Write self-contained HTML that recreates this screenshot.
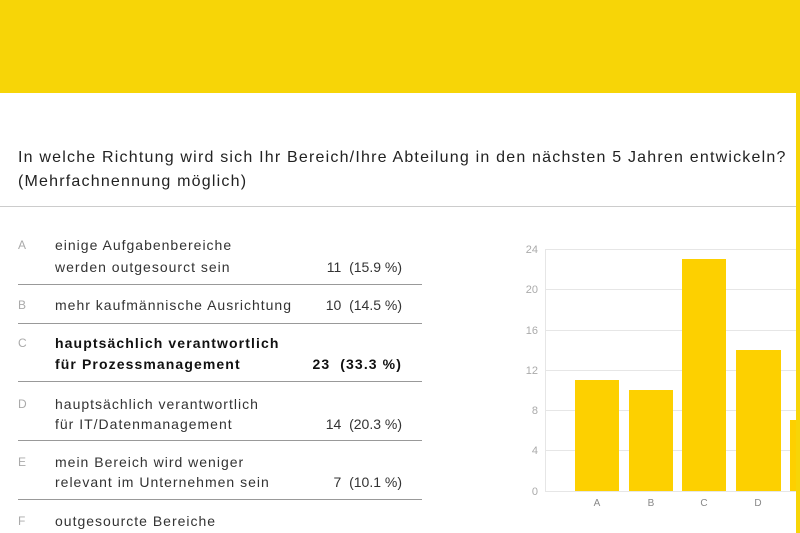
<!DOCTYPE html>
<html><head><meta charset="utf-8"><style>
body{margin:0;width:800px;height:533px;overflow:hidden;background:#fff;font-family:"Liberation Sans",sans-serif;position:relative}
.t{position:absolute;font-size:14px;color:#333;white-space:nowrap;line-height:20px;letter-spacing:1px}
.l{position:absolute;font-size:12px;color:#aaa;line-height:20px}
.n{position:absolute;font-size:14px;color:#333;right:398px;line-height:20px;white-space:nowrap}
.hr{position:absolute;left:18px;width:404px;height:1px;background:#999}
.b{font-weight:bold;color:#111;letter-spacing:1.1px}
</style></head><body>
<div style="position:absolute;left:0;top:0;width:800px;height:93px;background:#f7d507"></div>
<div style="position:absolute;left:796px;top:93px;width:4px;height:440px;background:#f7d507"></div>
<div class="t" style="left:18px;top:148px;font-size:16px;color:#222;letter-spacing:1.2px">In welche Richtung wird sich Ihr Bereich/Ihre Abteilung in den nächsten 5 Jahren entwickeln?</div>
<div class="t" style="left:18px;top:172px;font-size:16px;color:#222;letter-spacing:1.2px">(Mehrfachnennung möglich)</div>
<div style="position:absolute;left:0;top:206px;width:796px;height:1px;background:#ccc"></div>

<div class="l" style="left:18px;top:235px">A</div>
<div class="t" style="left:55px;top:235px">einige Aufgabenbereiche</div>
<div class="t" style="left:55px;top:257px">werden outgesourct sein</div>
<div class="n" style="top:257px">11 &nbsp;(15.9 %)</div>
<div class="hr" style="top:284px"></div>
<div class="l" style="left:18px;top:295px">B</div>
<div class="t" style="left:55px;top:295px;letter-spacing:1px">mehr kaufmännische Ausrichtung</div>
<div class="n" style="top:295px">10 &nbsp;(14.5 %)</div>
<div class="hr" style="top:323px"></div>
<div class="l" style="left:18px;top:333px">C</div>
<div class="t b" style="left:55px;top:333px">hauptsächlich verantwortlich</div>
<div class="t b" style="left:55px;top:354px">für Prozessmanagement</div>
<div class="n b" style="top:354px">23 &nbsp;(33.3 %)</div>
<div class="hr" style="top:381px"></div>
<div class="l" style="left:18px;top:394px">D</div>
<div class="t" style="left:55px;top:394px">hauptsächlich verantwortlich</div>
<div class="t" style="left:55px;top:414px">für IT/Datenmanagement</div>
<div class="n" style="top:414px">14 &nbsp;(20.3 %)</div>
<div class="hr" style="top:440px"></div>
<div class="l" style="left:18px;top:452px">E</div>
<div class="t" style="left:55px;top:452px">mein Bereich wird weniger</div>
<div class="t" style="left:55px;top:472px">relevant im Unternehmen sein</div>
<div class="n" style="top:472px">7 &nbsp;(10.1 %)</div>
<div class="hr" style="top:499px"></div>
<div class="l" style="left:18px;top:511px">F</div>
<div class="t" style="left:55px;top:511px">outgesourcte Bereiche</div>

<svg style="position:absolute;left:0;top:0" width="800" height="533">
<g stroke="#e6e6e6" stroke-width="1">
<line x1="545" x2="796" y1="249.5" y2="249.5"/><line x1="545" x2="796" y1="289.5" y2="289.5"/>
<line x1="545" x2="796" y1="330.5" y2="330.5"/><line x1="545" x2="796" y1="370.5" y2="370.5"/>
<line x1="545" x2="796" y1="410.5" y2="410.5"/><line x1="545" x2="796" y1="450.5" y2="450.5"/>
<line x1="545" x2="796" y1="491.5" y2="491.5"/><line x1="545.5" x2="545.5" y1="249" y2="491"/>
</g>
<g font-family="Liberation Sans" font-size="11" fill="#aaa" text-anchor="end">
<text x="538" y="253">24</text><text x="538" y="293">20</text><text x="538" y="334">16</text>
<text x="538" y="374">12</text><text x="538" y="414">8</text><text x="538" y="454">4</text><text x="538" y="495">0</text>
</g>
<g fill="#fdd000">
<rect x="575" y="380" width="44" height="111"/><rect x="629" y="390" width="44" height="101"/>
<rect x="682" y="259" width="44" height="232"/><rect x="736" y="350" width="45" height="141"/>
<rect x="790" y="420" width="6" height="71"/>
</g>
<g font-family="Liberation Sans" font-size="10" fill="#888" text-anchor="middle">
<text x="597" y="506">A</text><text x="651" y="506">B</text><text x="704" y="506">C</text><text x="758" y="506">D</text>
</g>
</svg>
</body></html>
